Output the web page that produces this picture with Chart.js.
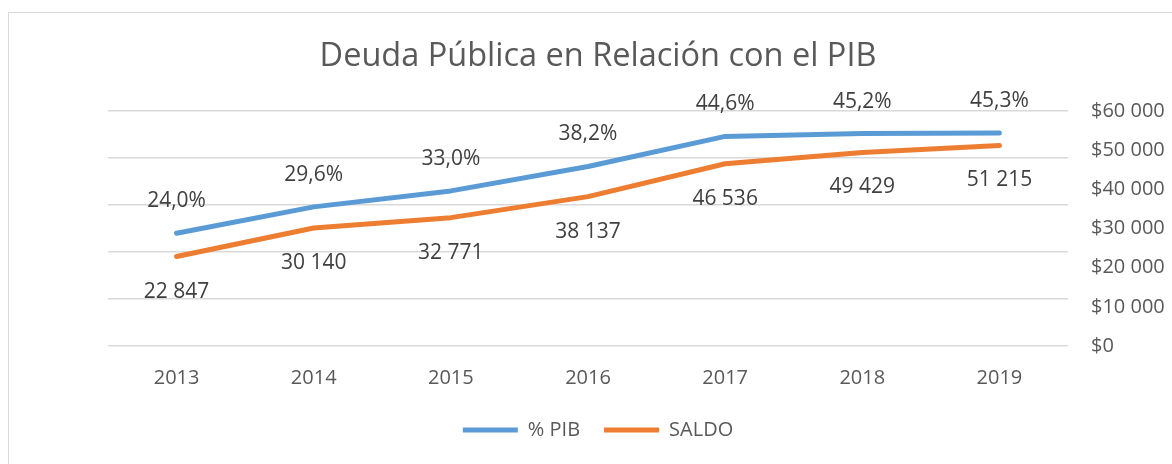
<!DOCTYPE html>
<html>
<head>
<meta charset="utf-8">
<script src="https://cdn.jsdelivr.net/npm/chart.js@4/dist/chart.umd.min.js"></script>
<style>
    body { margin: 0; background: #fff; }
    #wrap { position: relative; width: 1172px; height: 464px; overflow: hidden; }
    #marco { position: absolute; left: 8px; top: 12px; width: 1200px; height: 500px; border: 1px solid #d9d9d9; }
    #grafico { position: absolute; left: 0; top: 0; }
</style>
</head>
<body>
<div id="wrap">
    <div id="marco"></div>
    <canvas id="grafico" width="1172" height="464"></canvas>
</div>
<script>
// Datos del gráfico
const anios = ['2013', '2014', '2015', '2016', '2017', '2018', '2019'];
const pctPib = [24.0, 29.6, 33.0, 38.2, 44.6, 45.2, 45.3];
const saldo = [22847, 30140, 32771, 38137, 46536, 49429, 51215];
const ticksSaldo = [0, 10000, 20000, 30000, 40000, 50000, 60000];

const fuente = "'Open Sans', sans-serif";

// Formato con espacio como separador de miles
function miles(v) {
    return Math.round(v).toString().replace(/\B(?=(\d{3})+(?!\d))/g, ' ');
}

// Etiquetas de datos sobre / bajo cada punto
const etiquetas = {
    id: 'etiquetas',
    afterDatasetsDraw(chart) {
        const ctx = chart.ctx;
        ctx.save();
        ctx.font = '21px ' + fuente;
        ctx.fillStyle = '#404040';
        ctx.textAlign = 'center';
        ctx.textBaseline = 'middle';
        chart.data.datasets.forEach((ds, i) => {
            const meta = chart.getDatasetMeta(i);
            meta.data.forEach((pt, j) => {
                const v = ds.data[j];
                if (i === 0) {
                    ctx.fillText(v.toFixed(1).replace('.', ',') + '%', pt.x, pt.y - 32);
                } else {
                    ctx.fillText(miles(v), pt.x, pt.y + 35);
                }
            });
        });
        ctx.restore();
    }
};

new Chart(document.getElementById('grafico'), {
    type: 'line',
    data: {
        labels: anios,
        datasets: [{
            label: '% PIB',
            data: pctPib,
            borderColor: '#5b9bd5',
            backgroundColor: '#5b9bd5',
            borderWidth: 5,
            borderCapStyle: 'round',
            borderJoinStyle: 'round',
            pointRadius: 0,
            pointStyle: 'line',
            yAxisID: 'y'
        }, {
            label: 'SALDO',
            data: saldo,
            borderColor: '#ed7d31',
            backgroundColor: '#ed7d31',
            borderWidth: 5,
            borderCapStyle: 'round',
            borderJoinStyle: 'round',
            pointRadius: 0,
            pointStyle: 'line',
            yAxisID: 'y1'
        }]
    },
    options: {
        responsive: false,
        animation: false,
        layout: { padding: { left: 24, right: 0, top: 0, bottom: 14 } },
        plugins: {
            title: {
                display: true,
                text: 'Deuda Pública en Relación con el PIB',
                color: '#595959',
                font: { family: fuente, size: 32.5, weight: 'normal' },
                padding: { top: 37.5, bottom: 34.5 }
            },
            legend: {
                position: 'bottom',
                labels: {
                    usePointStyle: true,
                    pointStyleWidth: 55,
                    padding: 24,
                    color: '#595959',
                    font: { family: fuente, size: 20 }
                }
            },
            tooltip: { enabled: false }
        },
        scales: {
            x: {
                offset: true,
                grid: { display: false, drawTicks: false },
                border: { display: false },
                ticks: { color: '#595959', padding: 20, font: { family: fuente, size: 20 } },
                afterFit(s) { s.height = 50; }
            },
            y: {
                position: 'left',
                min: 0,
                max: 50,
                ticks: { display: false, stepSize: 10 },
                grid: { color: '#d9d9d9', lineWidth: 1.5, drawTicks: false },
                border: { display: false },
                afterFit(s) { s.width = 84; }
            },
            y1: {
                position: 'right',
                min: 0,
                max: 60000,
                afterBuildTicks(s) { s.ticks = ticksSaldo.map(v => ({ value: v })); },
                ticks: {
                    color: '#595959',
                    padding: 23,
                    font: { family: fuente, size: 20 },
                    callback: v => '$' + miles(v)
                },
                grid: { display: false, drawTicks: false },
                border: { display: false },
                afterFit(s) { s.width = 104; }
            }
        }
    },
    plugins: [etiquetas]
});
</script>
</body>
</html>
